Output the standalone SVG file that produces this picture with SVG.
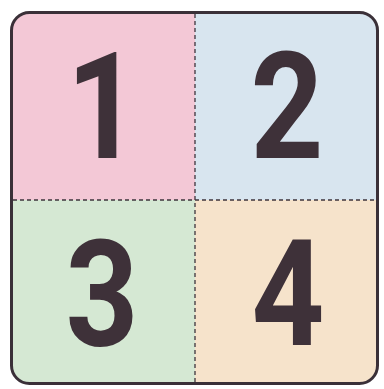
<svg xmlns="http://www.w3.org/2000/svg" width="384" height="389" viewBox="0 0 384 389">
<style>
.num{font-family:Roboto,"Liberation Sans",Arial,sans-serif;font-weight:bold;font-size:148px;fill:#3e3139;text-anchor:middle}
.div{stroke:#3e353c;stroke-width:1.3;stroke-dasharray:4 3;fill:none}
</style>
<defs>
<clipPath id="c"><rect x="11.5" y="12.5" width="366" height="371" rx="18"/></clipPath>
</defs>
<rect width="384" height="389" fill="#ffffff"/>
<g clip-path="url(#c)">
<g id="q1"><rect x="0" y="0" width="195" height="200" fill="#f3c8d6"/></g>
<g id="q2"><rect x="195" y="0" width="189" height="200" fill="#d8e5ef"/></g>
<g id="q3"><rect x="0" y="200" width="195" height="189" fill="#d5e8d3"/></g>
<g id="q4"><rect x="195" y="200" width="189" height="189" fill="#f6e3cb"/></g>
</g>
<g id="connectors">
<line class="div" x1="195" y1="14" x2="195" y2="383"/>
<line class="div" x1="13" y1="200" x2="377" y2="200"/>
</g>
<rect x="11.5" y="12.5" width="366" height="371" rx="18" fill="none" stroke="#3a3038" stroke-width="3"/>
<text class="num" transform="translate(103,158) scale(0.86,1)">1</text>
<text class="num" transform="translate(287,158) scale(0.86,1)">2</text>
<text class="num" transform="translate(102,346) scale(0.86,1)">3</text>
<text class="num" transform="translate(288,345) scale(0.86,1)">4</text>
</svg>
